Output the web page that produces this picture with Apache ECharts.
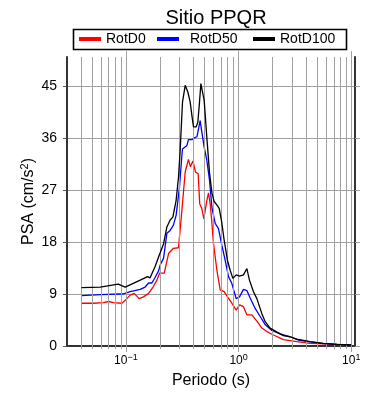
<!DOCTYPE html>
<html><head><meta charset="utf-8">
<script src="https://cdn.jsdelivr.net/npm/echarts@6/dist/echarts.min.js"></script>
<style>html,body{margin:0;padding:0;background:#fff}#c{width:390px;height:400px}</style>
</head><body><div id="c"></div>
<script>
const periodsD0 = [0.0404,0.0516,0.0633,0.0701,0.0776,0.0921,0.0986,0.109,0.1185,0.131,0.143,0.159,0.174,0.1885,0.1988,0.219,0.239,0.264,0.293,0.314,0.336,0.359,0.374,0.393,0.415,0.438,0.452,0.471,0.492,0.523,0.541,0.560,0.577,0.599,0.642,0.687,0.745,0.797,0.872,0.952,1.019,1.105,1.185,1.312,1.453,1.61,1.782,2.04,2.5,3.29,4.32,7.45,10];
const rotD0 = [7.4,7.4,7.5,7.7,7.5,7.4,7.9,8.8,9.1,8.2,8.5,9.1,10.2,11.4,12.6,12.6,16.0,16.9,17.0,23.5,30.1,32.3,31.0,32.0,30.1,29.8,24.6,23.8,22.0,25.2,26.5,24.6,21.8,17.7,13.1,9.7,9.4,8.5,7.4,6.2,7.1,6.8,5.4,5.4,4.3,3.1,2.5,1.9,1.1,0.74,0.46,0.28,0.18];

const periodsD50 = [0.0404,0.0591,0.0889,0.0952,0.109,0.134,0.148,0.159,0.170,0.182,0.195,0.2015,0.216,0.231,0.247,0.264,0.279,0.299,0.314,0.318,0.331,0.348,0.359,0.385,0.404,0.427,0.441,0.456,0.472,0.495,0.523,0.552,0.58,0.620,0.663,0.711,0.761,0.814,0.872,0.952,1.019,1.105,1.185,1.267,1.404,1.555,1.722,1.973,2.34,2.87,3.40,4.32,5.67,7.45,10];
const rotD50 = [8.7,8.9,9.0,9.0,9.4,9.8,10.2,10.9,10.9,11.9,13.0,14.0,15.2,19.5,20.0,20.9,22.6,27.5,33,34.1,33.8,34.7,35.7,35.7,36.0,36.2,36.2,39.0,37.0,34.4,32.1,28.7,24,21.2,20.3,17.4,14.8,12.0,10.8,8.2,8.5,9.8,9.6,8.3,6.5,5.1,3.7,2.7,2.1,1.6,1.0,0.7,0.42,0.28,0.17];

const periodsD100 = [0.0404,0.0591,0.0855,0.0986,0.134,0.1555,0.164,0.182,0.195,0.216,0.231,0.247,0.261,0.279,0.293,0.303,0.318,0.336,0.355,0.372,0.385,0.398,0.42,0.435,0.45,0.463,0.482,0.495,0.523,0.552,0.58,0.607,0.641,0.673,0.708,0.745,0.797,0.842,0.89,0.952,1.019,1.105,1.185,1.249,1.356,1.453,1.61,1.722,1.906,2.19,2.5,2.87,3.29,4.32,5.67,7.45,10];
const rotD100 = [10.1,10.2,10.7,10.2,11.4,12.0,11.8,13.8,15.4,17.7,20.6,21.8,22.3,25.2,29.2,33.8,42.2,45.1,43.9,42.2,39.9,37.9,37.9,38.7,42.2,45.4,45.1,42.5,36,30,26.5,25.0,24.4,23.8,21.5,18.3,14.8,13.1,11.7,12.3,12.1,12.3,13.4,11.4,9.4,8.2,5.6,4.2,3.1,2.4,1.8,1.6,1.2,0.75,0.46,0.29,0.17];

const xMajorTicks = [0.1, 1, 10];
const xMinorTicks = [0.04,0.05,0.06,0.07,0.08,0.09,0.2,0.3,0.4,0.5,0.6,0.7,0.8,0.9,2,3,4,5,6,7,8,9];
const yTicks = [0, 9, 18, 27, 36, 45];
const seriesNames = ['RotD0', 'RotD50', 'RotD100'];
const seriesColors = ['#ff0000', '#0000ff', '#000000'];

const FONT = '"Liberation Sans", Arial, Helvetica, sans-serif';
const GRIDC = '#a0a0a0';
const AXC = '#333333';
const allX = xMinorTicks.concat(xMajorTicks).sort((a,b)=>a-b);

function pairs(p, v) { return p.map((x, i) => [x, v[i]]); }
function supFmt(v) {
  const e = Math.round(Math.log10(v));
  return '{b|10}{sup|' + (e < 0 ? '\u2212' : '') + Math.abs(e) + '}';
}

const gridRect = { left: 67, right: 35, top: 57, bottom: 54, containLabel: false };
const xBase = { type: 'log', logBase: 10, min: 0.03, max: 10.8, splitLine: { show: false } };

const chart = echarts.init(document.getElementById('c'), null, { renderer: 'canvas' });
chart.setOption({
  animation: false,
  backgroundColor: '#fff',
  textStyle: { fontFamily: FONT },
  title: {
    text: 'Sitio PPQR', left: 211, top: 3, textAlign: 'center',
    textStyle: { fontFamily: FONT, fontSize: 20, fontWeight: 'normal', color: '#000' }
  },
  graphic: [{
    type: 'rect', shape: { x: 73.5, y: 29.5, width: 273, height: 20 },
    style: { fill: 'none', stroke: '#000', lineWidth: 1.6 }, silent: true, z: 10
  }],
  legend: seriesNames.map((n, i) => ({
    data: [n], left: [79, 157, 253][i], top: 32, padding: 0, itemGap: 0,
    icon: 'rect', itemWidth: 22, itemHeight: 4,
    textStyle: { fontFamily: FONT, fontSize: 14, color: '#000', padding: i === 1 ? [0, 0, 0, 6] : 0 },
    selectedMode: false
  })),
  grid: [gridRect, gridRect],
  xAxis: [
    Object.assign({}, xBase, {
      gridIndex: 0, position: 'bottom',
      axisLine: { show: true, lineStyle: { color: AXC, width: 2 } },
      axisTick: { show: true, customValues: allX, length: 3, lineStyle: { color: GRIDC } },
      axisLabel: {
        customValues: xMajorTicks, formatter: supFmt, margin: 7, color: '#000',
        rich: { b: { fontSize: 12, fontFamily: FONT, color: '#000' },
                sup: { fontSize: 9, fontFamily: FONT, color: '#000', padding: [0, 0, 7, 0] } }
      },
      name: 'Periodo (s)', nameLocation: 'middle', nameGap: 27, nameMoveOverlap: false,
      nameTextStyle: { fontFamily: FONT, fontSize: 16, color: '#000' }
    }),
    Object.assign({}, xBase, {
      gridIndex: 0, position: 'top',
      axisLine: { show: true, lineStyle: { color: AXC, width: 2 } },
      axisTick: { show: true, customValues: allX, length: 3, lineStyle: { color: GRIDC } },
      axisLabel: { show: false }
    }),
    Object.assign({}, xBase, {
      gridIndex: 1, position: 'bottom',
      axisLine: { show: false },
      axisTick: { show: true, customValues: xMajorTicks, length: 6, lineStyle: { color: GRIDC } },
      axisLabel: { show: false }
    }),
    Object.assign({}, xBase, {
      gridIndex: 1, position: 'top',
      axisLine: { show: false },
      axisTick: { show: true, customValues: xMajorTicks, length: 6, lineStyle: { color: GRIDC } },
      axisLabel: { show: false }
    })
  ],
  yAxis: [
    {
      type: 'value', gridIndex: 0, position: 'left', min: 0, max: 50, interval: 9,
      axisLine: { show: true, lineStyle: { color: AXC, width: 2 } },
      axisTick: { show: true, customValues: yTicks, length: 4, lineStyle: { color: '#555' } },
      axisLabel: { customValues: yTicks, margin: 10, fontFamily: FONT, fontSize: 14, color: '#000', showMaxLabel: true, hideOverlap: false },
      splitLine: { show: true, lineStyle: { color: GRIDC, width: 1 } },
      name: 'PSA (cm/s{sup|2})', nameLocation: 'middle', nameGap: 29, nameRotate: 90, nameMoveOverlap: false,
      nameTextStyle: { fontFamily: FONT, fontSize: 16, color: '#000',
        rich: { sup: { fontSize: 11, fontFamily: FONT, color: '#000', padding: [0, 0, 8, 0] } } }
    },
    {
      type: 'value', gridIndex: 0, position: 'right', min: 0, max: 50, interval: 9,
      axisLine: { show: true, lineStyle: { color: AXC, width: 2 } },
      axisTick: { show: true, customValues: yTicks, length: 5, lineStyle: { color: GRIDC } },
      axisLabel: { show: false }, splitLine: { show: false }
    },
    {
      type: 'value', gridIndex: 1, min: 0, max: 50, show: false
    }
  ],
  series: [
    {
      type: 'line', xAxisIndex: 0, yAxisIndex: 0, data: [], silent: true, z: 1,
      markLine: {
        silent: true, symbol: 'none', animation: false,
        label: { show: false },
        lineStyle: { color: GRIDC, width: 1, type: 'solid' },
        emphasis: { disabled: true },
        data: allX.map(v => ({ xAxis: v }))
      }
    },
    { name: 'RotD0', type: 'line', xAxisIndex: 0, yAxisIndex: 0, data: pairs(periodsD0, rotD0), symbol: 'none', color: seriesColors[0], lineStyle: { width: 1.3, color: seriesColors[0] }, z: 3 },
    { name: 'RotD50', type: 'line', xAxisIndex: 0, yAxisIndex: 0, data: pairs(periodsD50, rotD50), symbol: 'none', color: seriesColors[1], lineStyle: { width: 1.3, color: seriesColors[1] }, z: 4 },
    { name: 'RotD100', type: 'line', xAxisIndex: 0, yAxisIndex: 0, data: pairs(periodsD100, rotD100), symbol: 'none', color: seriesColors[2], lineStyle: { width: 1.3, color: seriesColors[2] }, z: 5 }
  ]
});
</script>
</body></html>
